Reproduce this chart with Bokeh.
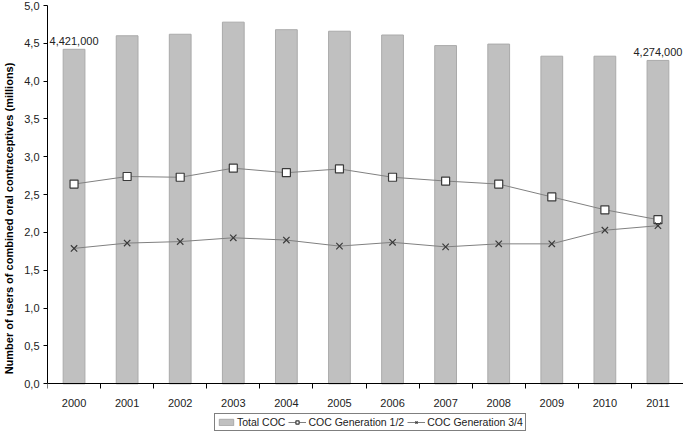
from bokeh.plotting import figure
from bokeh.models import (Range1d, FixedTicker, CustomJSTickFormatter, Legend, LegendItem,
                          ColumnDataSource)
from bokeh.core.properties import value
from bokeh.embed import file_html
from bokeh.resources import INLINE

years = ["2000", "2001", "2002", "2003", "2004", "2005", "2006", "2007", "2008", "2009", "2010", "2011"]
total_coc = [4.421, 4.60, 4.62, 4.78, 4.68, 4.66, 4.61, 4.47, 4.49, 4.33, 4.33, 4.274]
gen12 = [2.64, 2.74, 2.73, 2.85, 2.79, 2.84, 2.73, 2.68, 2.64, 2.47, 2.30, 2.17]
gen34 = [1.79, 1.86, 1.88, 1.93, 1.90, 1.82, 1.87, 1.81, 1.85, 1.85, 2.03, 2.09]
yticks = [0.0, 0.5, 1.0, 1.5, 2.0, 2.5, 3.0, 3.5, 4.0, 4.5, 5.0]

FONT = "Liberation Sans"
xs = list(range(len(years)))

p = figure(frame_width=637, frame_height=426, output_backend="svg", toolbar_location=None,
           x_range=Range1d(-0.5, len(years) - 0.5), y_range=Range1d(-0.63, 5),
           min_border_left=33, min_border_right=0, min_border_top=5, min_border_bottom=0)
p.outline_line_color = None
p.grid.grid_line_color = None
p.background_fill_color = "white"

src = ColumnDataSource(dict(x=xs, total=total_coc, g12=gen12, g34=gen34))
bars = p.vbar(x="x", top="total", width=0.41, source=src, fill_color="#c0c0c0",
              line_color="#aaaaaa", line_width=1)
l12 = p.line(x="x", y="g12", source=src, line_color="#808080", line_width=1)
s12 = p.scatter(x="x", y="g12", source=src, marker="square", size=8,
                fill_color="white", line_color="#3a3a3a", line_width=1.2)
l34 = p.line(x="x", y="g34", source=src, line_color="#808080", line_width=1)
s34 = p.scatter(x="x", y="g34", source=src, marker="x", size=9,
                line_color="#3a3a3a", line_width=1.2)

# value labels on first and last bars
lab_idx = [0, len(years) - 1]
lab_src = ColumnDataSource(dict(
    x=[xs[i] for i in lab_idx],
    y=[total_coc[i] for i in lab_idx],
    t=[f"{int(round(total_coc[i] * 1e6)):,}" for i in lab_idx]))
p.text(x="x", y="y", text="t", source=lab_src, text_align="center", text_baseline="bottom",
       y_offset=-4, text_font=value(FONT), text_font_size="11px", text_color="#222222")

# axes
xa = p.xaxis[0]
xa.fixed_location = 0
xa.ticker = FixedTicker(ticks=xs, minor_ticks=[i - 0.5 for i in range(len(years) + 1)])
xa.major_label_overrides = {i: y for i, y in enumerate(years)}
xa.major_tick_line_color = None
xa.minor_tick_in = 0
xa.minor_tick_out = 5
xa.minor_tick_line_color = "black"
xa.axis_line_color = "black"
xa.major_label_text_font = FONT
xa.major_label_text_font_size = "11px"
xa.major_label_text_color = "#222222"
xa.major_label_standoff = 9

ya = p.yaxis[0]
ya.bounds = (0, 5)
ya.ticker = FixedTicker(ticks=yticks)
ya.formatter = CustomJSTickFormatter(code="return tick.toFixed(1).replace('.', ',');")
ya.minor_tick_line_color = None
ya.major_tick_in = 0
ya.major_tick_out = 4
ya.major_tick_line_color = "black"
ya.axis_line_color = "black"
ya.major_label_text_font = FONT
ya.major_label_text_font_size = "11px"
ya.major_label_text_color = "#222222"
ya.major_label_standoff = 4
ya.axis_label = "Number of users of combined oral contraceptives (millions)"
ya.axis_label_text_font = FONT
ya.axis_label_text_font_size = "11px"
ya.axis_label_text_font_style = "bold"
ya.axis_label_text_color = "black"
ya.axis_label_standoff = 6

legend = Legend(items=[
    LegendItem(label="Total COC", renderers=[bars]),
    LegendItem(label="COC Generation 1/2", renderers=[l12, s12]),
    LegendItem(label="COC Generation 3/4", renderers=[l34, s34]),
], orientation="horizontal", location=(167, 0))
legend.border_line_color = "black"
legend.border_line_width = 1
legend.label_text_font = FONT
legend.label_text_font_size = "10.5px"
legend.label_text_color = "#222222"
legend.glyph_width = 18
legend.glyph_height = 8
legend.label_standoff = 2
legend.spacing = 3
legend.padding = 2
legend.margin = 0
legend.label_height = 11
p.add_layout(legend, "center")

open("out.html", "w").write(file_html(p, INLINE))
